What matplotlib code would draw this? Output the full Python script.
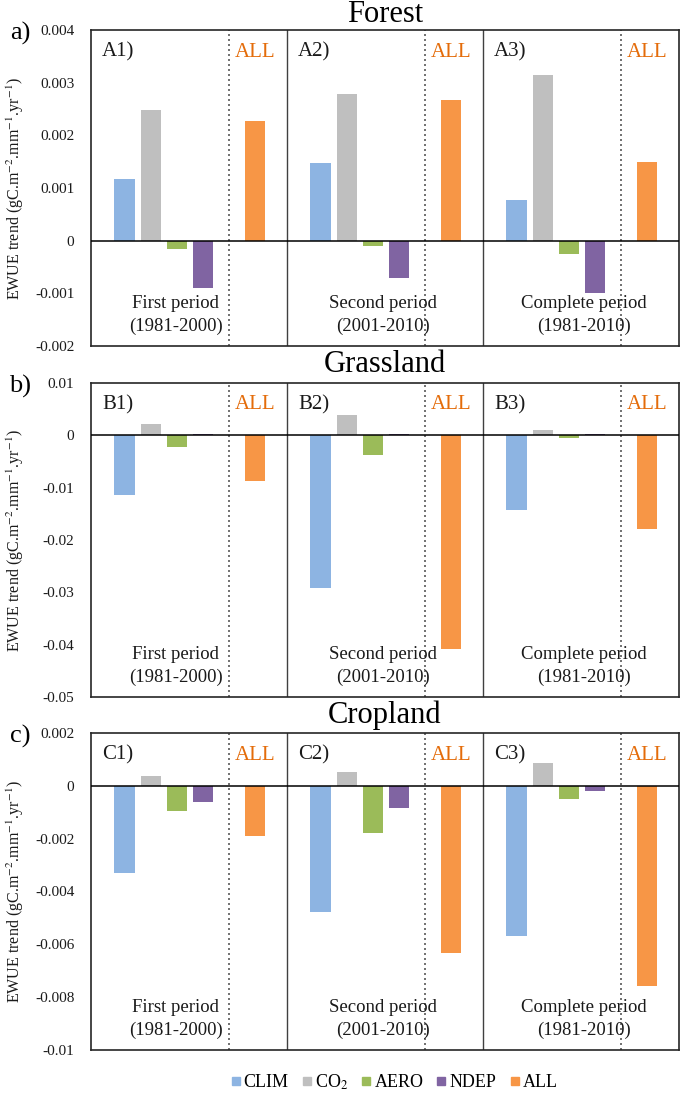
import matplotlib
matplotlib.use("Agg")
import matplotlib.pyplot as plt
from matplotlib.lines import Line2D
from matplotlib.ticker import FuncFormatter, MultipleLocator

plt.rcParams['font.family'] = ['Liberation Serif', 'DejaVu Serif']
plt.rcParams['mathtext.fontset'] = 'stix'
plt.rcParams['axes.unicode_minus'] = False

# ---------------- data ----------------
drivers = ['CLIM', 'CO$_2$', 'AERO', 'NDEP', 'ALL']
colors = ['#8DB4E2', '#BFBFBF', '#9BBB59', '#8064A2', '#F79646']
periods = ['First period', 'Second period', 'Complete period']
years = ['(1981-2000)', '(2001-2010)', '(1981-2010)']

biomes = ['Forest', 'Grassland', 'Cropland']
row_letters = ['a)', 'b)', 'c)']
sub_prefix = ['A', 'B', 'C']

# each row: one list per period -> CLIM, CO2, AERO, NDEP, ALL
forest = [[0.00118, 0.00249, -0.00015, -0.0009, 0.00228],
          [0.00148, 0.00278, -0.0001, -0.0007, 0.00268],
          [0.00077, 0.00314, -0.00025, -0.001, 0.0015]]
grassland = [[-0.0114, 0.0021, -0.0023, 0.0003, -0.0088],
             [-0.0291, 0.0038, -0.0038, 0.0002, -0.0408],
             [-0.0142, 0.0011, -0.0005, 0.0002, -0.0179]]
cropland = [[-0.0033, 0.00036, -0.00097, -0.00062, -0.0019],
            [-0.00478, 0.00054, -0.0018, -0.00085, -0.00634],
            [-0.00567, 0.00086, -0.00049, -0.00019, -0.00758]]
values = [forest, grassland, cropland]

ylims = [(-0.002, 0.004), (-0.05, 0.01), (-0.01, 0.002)]
ysteps = [0.001, 0.01, 0.002]

# ---------------- layout ----------------
W, H = 685, 1099
fig = plt.figure(figsize=(W / 100, H / 100), dpi=100)

ax_left, ax_right = 91, 679
tops = [30, 383, 733]
bottoms = [346, 697, 1050]
title_y = [15, 365, 715]

span = 7.5           # x-units per period block
offsets = [1.28, 2.28, 3.28, 4.28, 6.28]
dotted_off = 5.28
bar_w = 0.77
text_x = [3.25, 3.67, 3.85]
label_col = '#E46C0A'
txt_col = '#1A1A1A'


def fmt(v, pos):
    if abs(v) < 1e-12:
        return '0'
    return f'{v:g}'


for r in range(3):
    ax = fig.add_axes([ax_left / W, 1 - bottoms[r] / H,
                       (ax_right - ax_left) / W, (bottoms[r] - tops[r]) / H])
    for p in range(3):
        base = p * span
        for k in range(5):
            ax.bar(base + offsets[k], values[r][p][k], width=bar_w,
                   color=colors[k], zorder=2)
        ax.axvline(base + dotted_off, color='#595959', lw=1.2,
                   ls=(0, (1.2, 1.8)), zorder=1)
        if p > 0:
            ax.axvline(base, color='#404040', lw=1.0, zorder=1)
        ax.text(base + 0.42, 0.93, f'{sub_prefix[r]}{p + 1})',
                transform=ax.get_xaxis_transform(), fontsize=15,
                ha='left', va='center', color=txt_col)
        ax.text(base + offsets[4], 0.93, 'ALL', transform=ax.get_xaxis_transform(),
                fontsize=15, ha='center', va='center', color=label_col)
        ax.text(base + text_x[p], 0.135, periods[p], transform=ax.get_xaxis_transform(),
                fontsize=13.5, ha='center', va='center', color=txt_col)
        ax.text(base + text_x[p], 0.063, years[p], transform=ax.get_xaxis_transform(),
                fontsize=13.5, ha='center', va='center', color=txt_col)

    ax.axhline(0, color='black', lw=1.1, zorder=3)
    ax.set_xlim(0, 3 * span)
    ax.set_ylim(*ylims[r])
    ax.yaxis.set_major_locator(MultipleLocator(ysteps[r]))
    ax.yaxis.set_major_formatter(FuncFormatter(fmt))
    ax.set_xticks([])
    ax.tick_params(axis='y', length=0, pad=12, labelsize=11, labelcolor=txt_col)
    for s in ax.spines.values():
        s.set_linewidth(1.2)
        s.set_color('#262626')
    ax.set_ylabel('EWUE trend (gC.m$^{-2}$.mm$^{-1}$.yr$^{-1}$)', fontsize=11.5,
                  color=txt_col)
    ax.yaxis.set_label_coords(-0.11, 0.5)

    fig.text((ax_left + ax_right) / 2 / W, 1 - title_y[r] / H, biomes[r],
             fontsize=22, ha='center', va='center')
    fig.text(20 / W, 1 - (tops[r] + 3) / H, row_letters[r],
             fontsize=19, ha='center', va='center')

handles = [Line2D([], [], marker='s', ls='none', color=c, markersize=6) for c in colors]
fig.legend(handles, drivers, loc='center', bbox_to_anchor=(393 / W, 1 - 1082 / H),
           ncol=5, frameon=False, fontsize=13, handletextpad=0.05,
           columnspacing=0.6, handlelength=0.8)

fig.savefig('out.png', dpi=100)
